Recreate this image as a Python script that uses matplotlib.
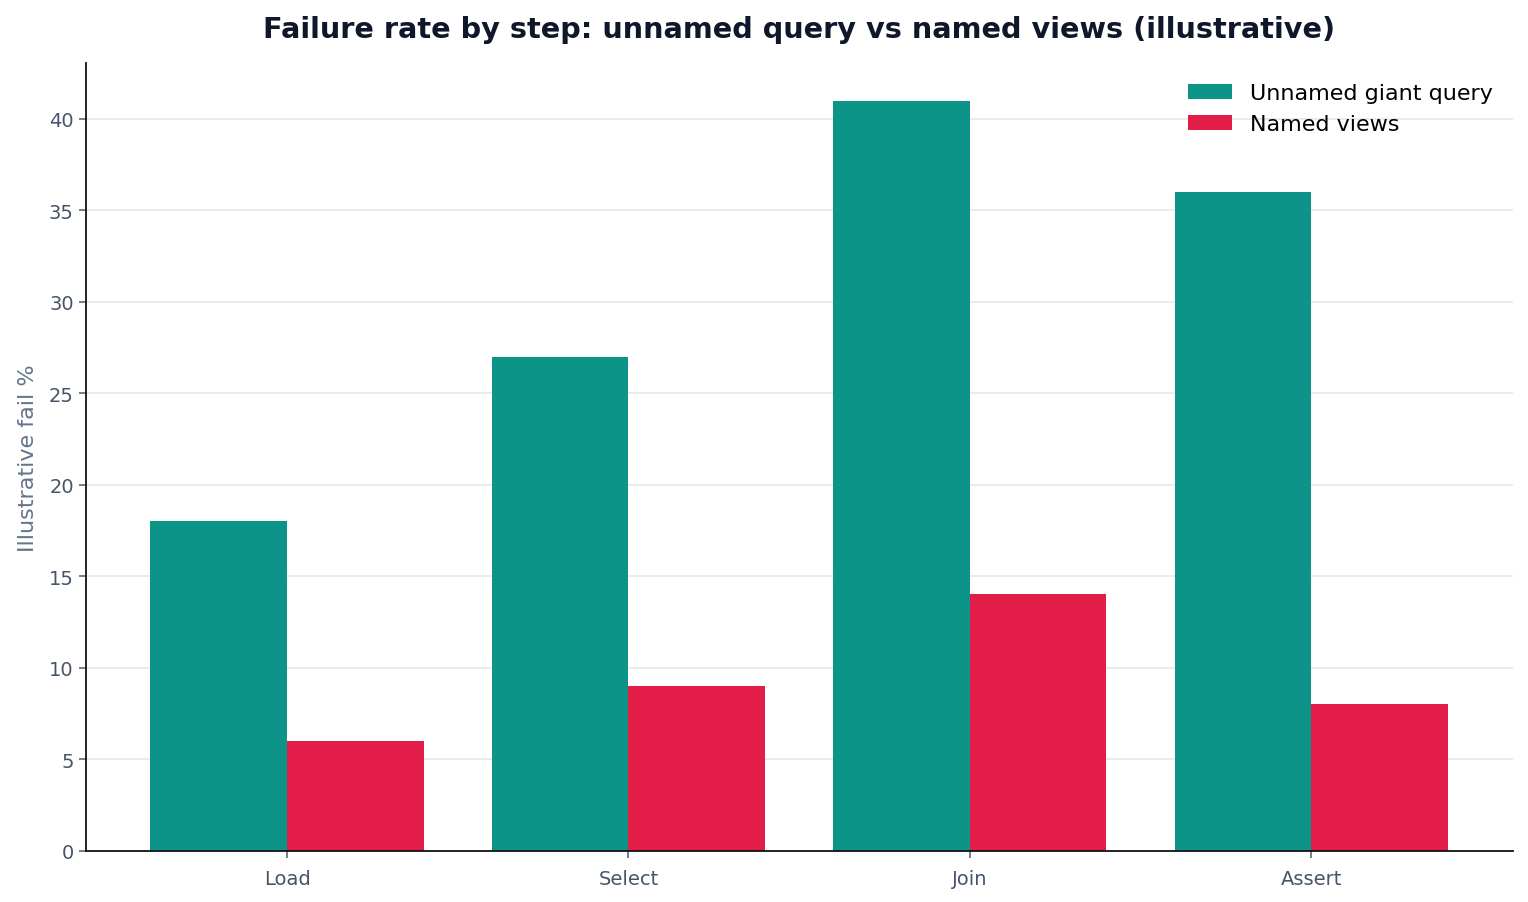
import matplotlib.pyplot as plt
import numpy as np

steps = ["Load", "Select", "Join", "Assert"]
unnamed = [18, 27, 41, 36]
named = [6, 9, 14, 8]

fig, ax = plt.subplots(figsize=(15.28, 9.03), dpi=100)
x = np.arange(len(steps))
w = 0.4
ax.bar(x - w / 2, unnamed, w, color="#0d9488", label="Unnamed giant query", zorder=2)
ax.bar(x + w / 2, named, w, color="#e11d48", label="Named views", zorder=2)

ax.set_xticks(x)
ax.set_xticklabels(steps)
ax.set_ylabel("Illustrative fail %", fontsize=16, color="#64748b", labelpad=8)
ax.set_title("Failure rate by step: unnamed query vs named views (illustrative)",
             fontsize=20.7, fontweight="bold", color="#0f172a", pad=19)
ax.tick_params(axis="both", labelsize=14, colors="#64748b", labelcolor="#475569",
               length=5, width=1.3)
ax.tick_params(axis="x", pad=8)
ax.grid(axis="y", color="#e5e7eb", linewidth=1.2, zorder=0)
ax.set_axisbelow(True)
for s in ["top", "right"]:
    ax.spines[s].set_visible(False)
for s in ["left", "bottom"]:
    ax.spines[s].set_color("#111111")
    ax.spines[s].set_linewidth(1.3)
ax.legend(frameon=False, fontsize=16, loc="upper right")

plt.subplots_adjust(left=0.056, right=0.99, top=0.929, bottom=0.057)
plt.savefig("out.png")
